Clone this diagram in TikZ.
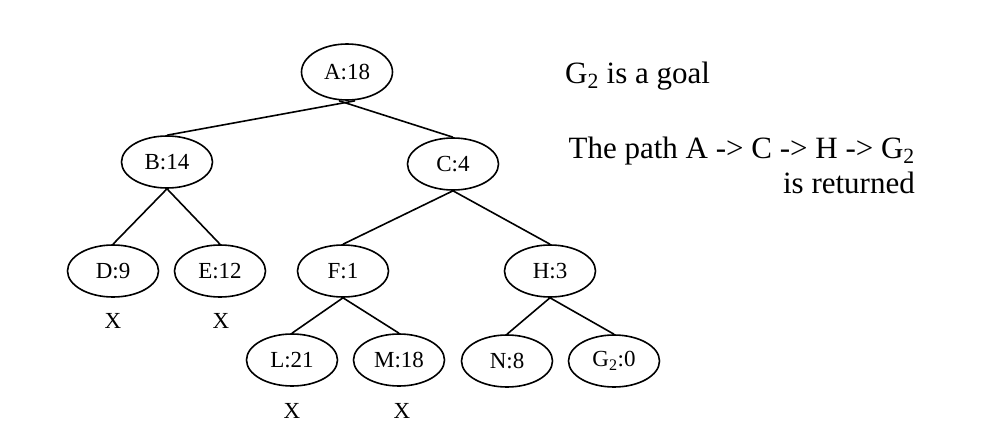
\documentclass[tikz,border=0pt]{standalone}
\usepackage{fontspec}
\setmainfont{Liberation Serif}
\usetikzlibrary{shapes.geometric}

\begin{document}
\begin{tikzpicture}
        [x=1pt, y=-1pt,
          state/.style={draw, ellipse, line width=1.6pt, minimum width=91pt, minimum height=52pt,
            inner sep=0pt, font=\fontsize{23}{27}\selectfont},
          cut/.style={font=\fontsize{23}{27}\selectfont},
          note/.style={inner sep=0pt, font=\fontsize{31}{35}\selectfont},
          branch/.style={line width=1.6pt}]
        \useasboundingbox (0,0) rectangle (989,442);
        % search tree
        \node[state, minimum height=56pt] (A) at (347,72) {A:18};
        \node[state] (B) at (167,162) {B:14};
        \node[state] (C) at (453,164) {C:4};
        \node[state] (D) at (113,271) {D:9};
        \node[state] (E) at (220,271) {E:12};
        \node[state] (F) at (343,271) {F:1};
        \node[state] (H) at (550,271) {H:3};
        \node[state] (L) at (292,360) {L:21};
        \node[state] (M) at (399,360) {M:18};
        \node[state] (N) at (507,361) {N:8};
        \node[state] (G) at (614,361) {G\textsubscript{2}:0};
        \draw[branch] ([xshift=8pt]A.south) -- (B.north);
        \draw[branch] ([xshift=-8pt]A.south) -- (C.north);
        \foreach \from/\to in {B/D,B/E,C/F,C/H,F/L,F/M,H/N,H/G}
          \draw[branch] (\from.south) -- (\to.north);
        % pruned nodes
        \node[cut] (xD) at (113,321) {X};
        \node[cut] (xE) at (221,321) {X};
        \node[cut] (xL) at (292,411) {X};
        \node[cut] (xM) at (402,411) {X};
        % remarks
        \node[note, anchor=base west] (goal) at (565,83) {G\textsubscript{2} is a goal};
        \node[note, anchor=base east] (path) at (915,158) {The path A -> C -> H -> G\textsubscript{2}};
        \node[note, anchor=base east] (ret) at (915,193) {is returned};
      \end{tikzpicture}
\end{document}
